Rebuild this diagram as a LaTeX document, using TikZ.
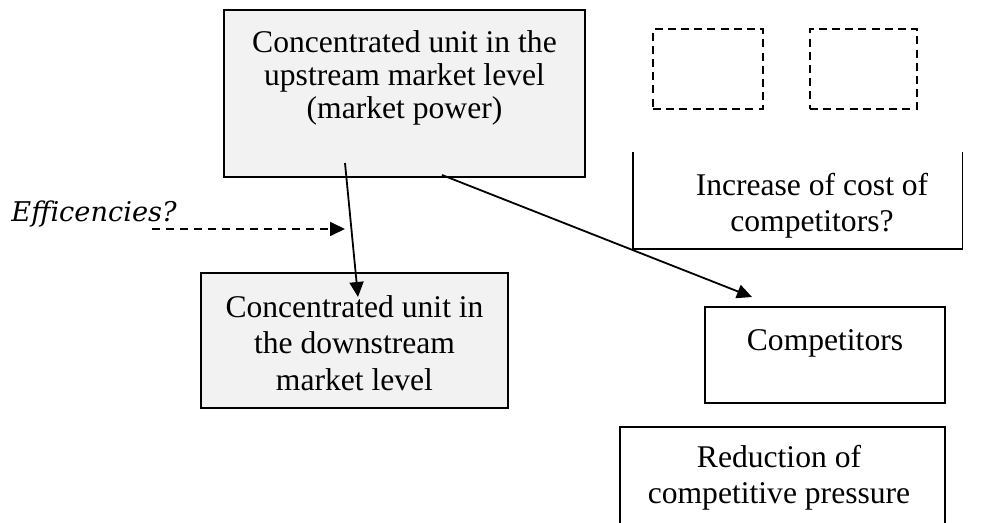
\documentclass[tikz,border=0pt]{standalone}
\usepackage{fontspec}
\setmainfont{Liberation Serif}
\newfontfamily\effont{DejaVu Serif}
\usetikzlibrary{arrows.meta,positioning,calc}

\definecolor{boxgray}{RGB}{242,242,242}

\tikzset{
  unitbox/.style={draw,fill=boxgray,line width=0.9pt,inner sep=0pt},
  plainbox/.style={draw,line width=0.9pt,inner sep=0pt},
  emptybox/.style={draw,line width=0.9pt,dash pattern=on 4pt off 2.6pt,inner sep=0pt},
  boxtext/.style={align=center,inner sep=0pt,font=\fontsize{15.8}{18.2}\selectfont},
}

\begin{document}
\begin{tikzpicture}[x=0.5pt,y=-0.5pt,>={Triangle[length=7.5pt,width=7pt]}]
  \useasboundingbox (0,0) rectangle (982,523);
  \clip (0,0) rectangle (982,523);

  % upstream unit
  \node[unitbox,minimum width=180.5pt,minimum height=83.5pt] (up) at (404.5,93.5) {};
  \node[boxtext,font=\fontsize{15.8}{16.5}\selectfont] (uptxt) at (404.5,78) {Concentrated unit in the\\upstream market level\\(market power)};

  % downstream unit
  \node[unitbox,minimum width=153.5pt,minimum height=67.5pt] (down) at (354.5,340.5) {};
  \node[boxtext] (downtxt) at (354.5,343) {Concentrated unit in\\the downstream\\market level};

  % empty boxes
  \node[emptybox,minimum width=55pt,minimum height=40pt] (empA) at (708,69) {};
  \node[emptybox,minimum width=53.5pt,minimum height=40pt] (empB) at (863.5,69) {};

  % increase of cost (open at the top)
  \node[minimum width=164.5pt,minimum height=48.5pt,inner sep=0pt] (incr) at (797.5,200.5) {};
  \draw[line width=0.9pt] (incr.north west) -- (incr.south west) -- (incr.south east) -- (incr.north east);
  \node[boxtext] (incrtxt) at (812,206) {Increase of cost of\\competitors?};

  % competitors
  \node[plainbox,minimum width=120pt,minimum height=48pt] (comp) at (825,355) {};
  \node[boxtext] (comptxt) at (825,343) {Competitors};

  % reduction
  \node[plainbox,minimum width=162.5pt,minimum height=60pt] (red) at (782.5,487) {};
  \node[boxtext] (redtxt) at (779,478) {Reduction of\\competitive pressure};

  % efficiencies
  \node[anchor=base west,inner sep=0pt,font=\effont\itshape\fontsize{13.6}{16}\selectfont] (eff) at (11,222) {Efficencies?};

  % connectors
  \coordinate (upA) at (345,163);
  \coordinate (downA) at (358,297);
  \coordinate (upB) at (442,175);
  \coordinate (compA) at (752,297);
  \coordinate (effA) at (152,229);
  \coordinate (effB) at (345,229);
  \draw[->,line width=0.9pt] (upA) -- (downA);
  \draw[->,line width=0.9pt] (upB) -- (compA);
  \draw[->,line width=0.9pt,dash pattern=on 4pt off 3pt] (effA) -- (effB);
\end{tikzpicture}
\end{document}
